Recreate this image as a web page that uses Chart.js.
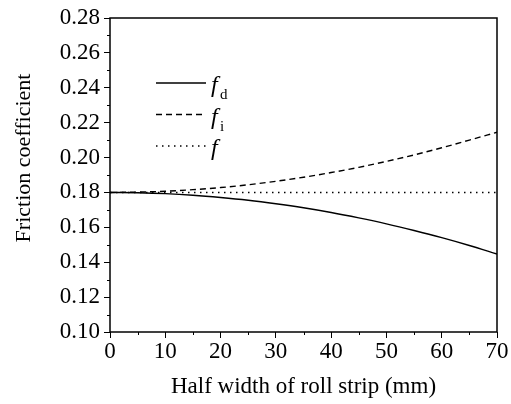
<!DOCTYPE html>
<html>
<head>
<meta charset="utf-8">
<script src="https://cdn.jsdelivr.net/npm/chart.js@4.4.1/dist/chart.umd.min.js"></script>
<style>
html, body { margin: 0; padding: 0; background: #fff; }
</style>
</head>
<body>
<canvas id="chart" width="511" height="404"></canvas>
<script>
// data
const halfWidth = [0, 5, 10, 15, 20, 25, 30, 35, 40, 45, 50, 55, 60, 65, 70];
const fdValues = [0.1800, 0.1798, 0.1793, 0.1784, 0.1771, 0.1755, 0.1735, 0.1712, 0.1685, 0.1654, 0.1620, 0.1582, 0.1541, 0.1496, 0.1447];
const fiValues = [0.1800, 0.1802, 0.1807, 0.1816, 0.1828, 0.1844, 0.1864, 0.1887, 0.1914, 0.1944, 0.1978, 0.2015, 0.2056, 0.2100, 0.2145];
const fValues = [0.18, 0.18, 0.18, 0.18, 0.18, 0.18, 0.18, 0.18, 0.18, 0.18, 0.18, 0.18, 0.18, 0.18, 0.18];

const xTicks = [0, 10, 20, 30, 40, 50, 60, 70];
const xMinorTicks = [5, 15, 25, 35, 45, 55, 65];
const yTicks = [0.10, 0.12, 0.14, 0.16, 0.18, 0.20, 0.22, 0.24, 0.26, 0.28];
const yMinorTicks = [0.11, 0.13, 0.15, 0.17, 0.19, 0.21, 0.23, 0.25, 0.27];

const legendSubs = ['d', 'i', ''];
const xTitle = 'Half width of roll strip (mm)';
const yTitle = 'Friction coefficient';

const serif = "'Liberation Serif', serif";
Chart.defaults.font.family = serif;
Chart.defaults.color = '#000';

function points(vals) {
    return halfWidth.map((x, i) => ({ x: x, y: vals[i] }));
}

// minor ticks, frame, y title and legend
const extras = {
    id: 'extras',
    afterDraw(chart) {
        const ctx = chart.ctx;
        const a = chart.chartArea;
        const x = chart.scales.x;
        const y = chart.scales.y;
        ctx.save();
        ctx.strokeStyle = '#000';
        ctx.lineWidth = 1;
        ctx.beginPath();
        yMinorTicks.forEach(v => {
            const py = Math.round(y.getPixelForValue(v)) + 0.5;
            ctx.moveTo(a.left - 3, py);
            ctx.lineTo(a.left, py);
        });
        xMinorTicks.forEach(v => {
            const px = Math.round(x.getPixelForValue(v)) + 0.5;
            ctx.moveTo(px, a.bottom);
            ctx.lineTo(px, a.bottom + 3);
        });
        ctx.stroke();

        ctx.lineWidth = 1.5;
        ctx.strokeRect(a.left, a.top, a.right - a.left, a.bottom - a.top);

        // y axis title
        ctx.fillStyle = '#000';
        ctx.font = '22px ' + serif;
        ctx.textAlign = 'center';
        ctx.textBaseline = 'alphabetic';
        ctx.translate(30, 158);
        ctx.rotate(-Math.PI / 2);
        ctx.fillText(yTitle, 0, 0);
        ctx.setTransform(1, 0, 0, 1, 0, 0);

        // legend
        const lx = 156, lw = 50, ly0 = 83, gap = 31.5;
        chart.data.datasets.forEach((ds, i) => {
            const ly = ly0 + i * gap;
            ctx.beginPath();
            ctx.lineWidth = ds.borderWidth;
            ctx.setLineDash(ds.borderDash || []);
            ctx.moveTo(lx, ly);
            ctx.lineTo(lx + lw, ly);
            ctx.stroke();
            ctx.setLineDash([]);
            ctx.textAlign = 'left';
            ctx.font = 'italic 24px ' + serif;
            ctx.fillText('f', lx + 55, ly + 9);
            if (legendSubs[i]) {
                ctx.font = '15px ' + serif;
                ctx.fillText(legendSubs[i], lx + 64, ly + 16);
            }
        });
        ctx.restore();
    }
};

new Chart(document.getElementById('chart'), {
    type: 'line',
    data: {
        datasets: [
            { label: 'fd', data: points(fdValues), borderColor: '#000', borderWidth: 1.4, pointRadius: 0, cubicInterpolationMode: 'monotone' },
            { label: 'fi', data: points(fiValues), borderColor: '#000', borderWidth: 1.4, borderDash: [6, 4], pointRadius: 0, cubicInterpolationMode: 'monotone' },
            { label: 'f', data: points(fValues), borderColor: '#000', borderWidth: 1.4, borderDash: [1.5, 4.5], pointRadius: 0 }
        ]
    },
    options: {
        responsive: false,
        animation: false,
        layout: { padding: { top: 18, right: 14, left: 0, bottom: 0 } },
        plugins: { legend: { display: false }, tooltip: { enabled: false } },
        scales: {
            x: {
                type: 'linear',
                min: 0,
                max: 70,
                afterBuildTicks: s => { s.ticks = xTicks.map(v => ({ value: v })); },
                afterFit: s => { s.height = 72; },
                border: { display: false },
                grid: { drawOnChartArea: false, tickLength: 6, tickColor: '#000', tickWidth: 1 },
                ticks: { color: '#000', font: { size: 23 }, padding: 0, maxRotation: 0 },
                title: { display: true, text: xTitle, color: '#000', font: { size: 23 }, padding: { top: 0, bottom: 3 } }
            },
            y: {
                min: 0.10,
                max: 0.28,
                afterBuildTicks: s => { s.ticks = yTicks.map(v => ({ value: v })); },
                afterFit: s => { s.width = 110; },
                border: { display: false },
                grid: { drawOnChartArea: false, tickLength: 6, tickColor: '#000', tickWidth: 1 },
                ticks: { color: '#000', font: { size: 23 }, padding: 4, callback: v => v.toFixed(2) }
            }
        }
    },
    plugins: [extras]
});
</script>
</body>
</html>
